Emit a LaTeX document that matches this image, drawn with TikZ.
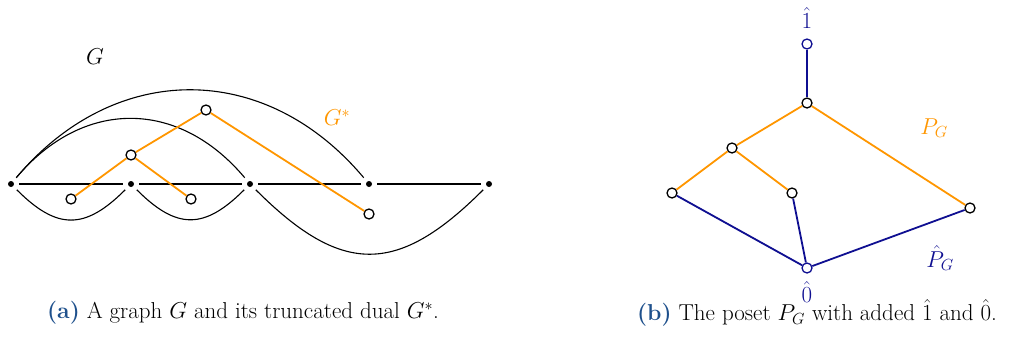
\RequirePackage{fix-cm}
\documentclass[tikz,border=0pt]{standalone}
\definecolor{porange}{RGB}{255,150,0}
\definecolor{pblue}{RGB}{15,15,145}
\definecolor{capblue}{RGB}{30,80,140}
\begin{document}
\begin{tikzpicture}[x=1pt,y=-1pt,
  gv/.style={circle,minimum size=16pt,inner sep=0pt,path picture={\fill[black] (path picture bounding box.center) circle (3pt);}},
  ov/.style={circle,draw=black,fill=white,line width=1.3pt,minimum size=10pt,inner sep=0pt},
  bv/.style={ov,draw=pblue},
  gedge/.style={line width=1.1pt},
  oedge/.style={draw=porange,line width=1.8pt},
  bedge/.style={draw=pblue,line width=1.8pt},
  lbl/.style={inner sep=0pt,font=\fontsize{23}{27}\selectfont},
  captext/.style={font=\fontsize{23}{27}\selectfont}]
\useasboundingbox (0,0) rectangle (1010,356);
% graph G
\node[gv] (v0) at (11,184) {};
\node[gv] (v1) at (131,184) {};
\node[gv] (v2) at (250,184) {};
\node[gv] (v3) at (369,184) {};
\node[gv] (v4) at (489,184) {};
\draw[gedge] (v0) -- (v1);
\draw[gedge] (v1) -- (v2);
\draw[gedge] (v2) -- (v3);
\draw[gedge] (v3) -- (v4);
\draw[gedge] (v0) to[out=50,in=130,looseness=1.13] (v3);
\draw[gedge] (v0) to[out=50,in=130,looseness=1.16] (v2);
\draw[gedge] (v0) to[out=-45,in=-135,looseness=1.35] (v1);
\draw[gedge] (v1) to[out=-45,in=-135,looseness=1.35] (v2);
\draw[gedge] (v2) to[out=-45,in=-135,looseness=1.37] (v4);
\node[lbl] (Glab) at (95,57) {$G$};
% dual G*
\node[ov] (a) at (71,199) {};
\node[ov] (b) at (131,155) {};
\node[ov] (c) at (191,199) {};
\node[ov] (d) at (206,110) {};
\node[ov] (e) at (369,214) {};
\draw[oedge] (a) -- (b);
\draw[oedge] (b) -- (c);
\draw[oedge] (b) -- (d);
\draw[oedge] (d) -- (e);
\node[lbl,text=porange] (Gslab) at (337,118) {$G^*$};
% poset
\node[bv] (one) at (807,44) {};
\node[ov] (t) at (807,103) {};
\node[ov] (l) at (732,148) {};
\node[ov] (ll) at (672,193) {};
\node[ov] (lm) at (792,193) {};
\node[ov] (r) at (970,208) {};
\node[bv] (z) at (807,268) {};
\draw[bedge] (one) -- (t);
\draw[oedge] (t) -- (l);
\draw[oedge] (l) -- (ll);
\draw[oedge] (l) -- (lm);
\draw[oedge] (t) -- (r);
\draw[bedge] (ll) -- (z);
\draw[bedge] (lm) -- (z);
\draw[bedge] (r) -- (z);
\node[lbl,text=pblue] (onelab) at (807,18) {$\hat{1}$};
\node[lbl,text=pblue] (zlab) at (807,292) {$\hat{0}$};
\node[lbl,text=porange] (PGlab) at (934,128) {$P_G$};
\node[lbl,text=pblue] (hPGlab) at (940,258) {$\hat{P}_G$};
% captions
\node[captext] (capa) at (243,313) {\textcolor{capblue}{\textbf{(a)}} A graph $G$ and its truncated dual $G^*$.};
\node[captext] (capb) at (817,313) {\textcolor{capblue}{\textbf{(b)}} The poset $P_G$ with added $\hat{1}$ and $\hat{0}$.};
\end{tikzpicture}
\end{document}
